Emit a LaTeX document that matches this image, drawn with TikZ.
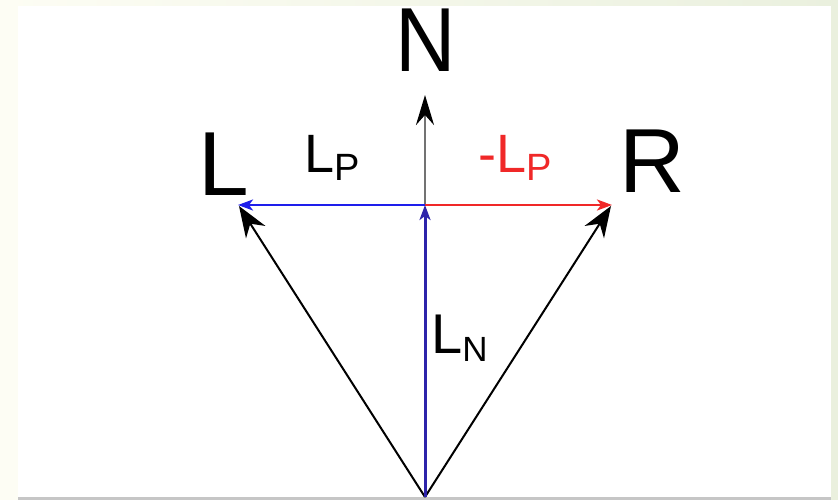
\documentclass[tikz,border=0pt]{standalone}
\usepackage{fontspec}
\setmainfont{Liberation Sans}
\usetikzlibrary{arrows.meta}
\definecolor{bgcream}{RGB}{253,253,244}
\definecolor{bggreen}{RGB}{234,240,222}
\definecolor{hblue}{RGB}{30,30,235}
\definecolor{vblue}{RGB}{45,35,170}
\definecolor{lred}{RGB}{240,40,40}
\definecolor{ngray}{RGB}{115,115,115}
\definecolor{frameline}{RGB}{198,198,198}
\tikzset{
  bigtip/.style={-{Stealth[length=31pt,width=23pt,inset=10pt]}},
  smalltip/.style={-{Stealth[length=15pt,width=11pt,inset=4pt]}},
  ntip/.style={-{Stealth[length=30pt,width=18pt,inset=10pt,color=black]}},
  biglabel/.style={inner sep=0pt, anchor=base, font=\fontsize{91}{91}\selectfont},
  sublabel/.style={inner sep=0pt, anchor=base west},
}
\newcommand{\vecname}[4]{{\fontsize{#3}{#3}\selectfont #1}{\fontsize{#4}{#4}\selectfont\raisebox{-8.5pt}{#2}}}
\begin{document}
\begin{tikzpicture}[x=1pt,y=-1pt]
\useasboundingbox (0,0) rectangle (838,500);
% background frame
\fill[bgcream] (0,0) rectangle (838,500);
\shade[left color=bgcream, right color=bggreen] (0,0) rectangle (838,6);
\fill[bggreen] (831,0) rectangle (838,500);
\fill[white] (18,6) rectangle (831,497);
\fill[frameline] (18,497) rectangle (831,500);
% points
\coordinate (O) at (425,497);
\coordinate (C) at (425,205);
\coordinate (Nt) at (425,95);
\coordinate (Lt) at (238,205);
\coordinate (Rt) at (612,205);
\coordinate (Ld) at (239,206);
\coordinate (Rd) at (611,206);
% arrows
\draw[ngray, line width=2.8pt, ntip] (C) -- (Nt);
\draw[black, line width=2pt, bigtip] (O) -- (Ld);
\draw[black, line width=2pt, bigtip] (O) -- (Rd);
\draw[hblue, line width=2.5pt, smalltip] (C) -- (Lt);
\draw[lred, line width=2.5pt, smalltip] (C) -- (Rt);
\draw[vblue, line width=3pt, smalltip] (O) -- (C);
% labels
\node[biglabel, xscale=0.92] (N) at (426,72) {N};
\node[biglabel] (L) at (224,195) {L};
\node[biglabel] (R) at (652,192) {R};
\node[sublabel] (LP) at (304,172) {\vecname{L}{P}{54}{38}};
\node[sublabel, text=lred] (mLP) at (478,172) {\vecname{-L}{P}{54}{38}};
\node[sublabel] (LN) at (431,353) {\vecname{L}{N}{56}{35}};
\end{tikzpicture}
\end{document}
